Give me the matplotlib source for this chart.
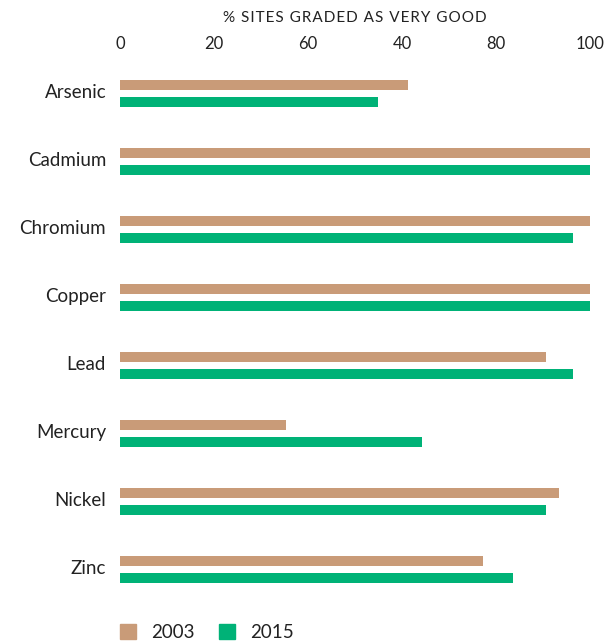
import numpy as np
import matplotlib.pyplot as plt
from matplotlib.patches import Patch

# metals and % of sites graded "very good"
metals = ['Arsenic', 'Cadmium', 'Chromium', 'Copper', 'Lead', 'Mercury', 'Nickel', 'Zinc']
pct_2003 = [61.3, 100, 100, 100, 90.7, 35.3, 93.3, 77.3]
pct_2015 = [54.8, 100, 96.4, 100, 96.4, 64.2, 90.7, 83.6]
tick_vals = [0, 20, 40, 60, 80, 100]
tick_text = ['0', '20', '60', '40', '80', '100']

tan = '#c99b78'
green = '#00b277'
txt = '#222222'

plt.rcParams['font.family'] = ['Lato', 'DejaVu Sans']

fig = plt.figure(figsize=(6.13, 6.43), dpi=100)
ax = fig.add_axes([120 / 613, 1 - 600 / 643, 470 / 613, 540 / 643])

y = np.arange(len(metals))
h = 0.16
ax.barh(y - 0.125, pct_2003, height=h, color=tan, label='2003')
ax.barh(y + 0.125, pct_2015, height=h, color=green, label='2015')

ax.set_xlim(0, 100)
ax.set_ylim(7 + 30.5 / 68, -33.5 / 68)
ax.set_yticks(y - 0.03)
ax.set_yticklabels(metals, fontsize=13.5, color=txt)
ax.set_xticks(tick_vals)
ax.set_xticklabels(tick_text, fontsize=12, color=txt)
ax.xaxis.tick_top()
ax.xaxis.set_label_position('top')
title = '% SITES GRADED AS VERY GOOD'
ax.set_xlabel('\u200a'.join(title), fontsize=11, color=txt, labelpad=10)
ax.tick_params(length=0)
ax.tick_params(axis='x', pad=6)
ax.tick_params(axis='y', pad=10)
for s in ax.spines.values():
    s.set_visible(False)

handles = [Patch(color=tan, label='2003'), Patch(color=green, label='2015')]
fig.legend(handles=handles, loc='lower left', bbox_to_anchor=(120 / 613, 2 / 643),
           ncol=2, frameon=False, fontsize=13.5, handlelength=0.85, handleheight=0.85,
           columnspacing=1.3, handletextpad=0.8, borderpad=0, borderaxespad=0,
           labelcolor=txt)

fig.savefig('out.png', dpi=100)
